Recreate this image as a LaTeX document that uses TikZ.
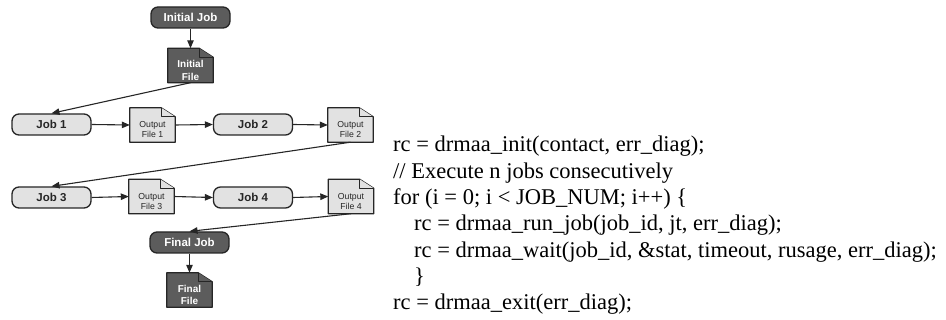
\documentclass[tikz,border=0pt]{standalone}
\usepackage{fontspec}
\setmainfont{Liberation Serif}
\newfontfamily\diagfont{Liberation Sans}
\usetikzlibrary{arrows.meta,backgrounds}

\definecolor{darkfill}{RGB}{92,92,92}
\definecolor{lightfill}{RGB}{226,226,226}
\definecolor{edge}{RGB}{38,38,38}

\tikzset{
  job/.style={draw=edge, line width=1.3pt, rounded corners=7pt,
    minimum width=79pt, minimum height=21pt, inner sep=0pt,
    font=\diagfont\bfseries\fontsize{11.5}{12}\selectfont},
  lightjob/.style={job, fill=lightfill, text=edge},
  darkjob/.style={job, fill=darkfill, text=white},
  docfile/.style={minimum width=45pt, minimum height=34pt, inner sep=0pt},
  doctext/.style={inner sep=0pt, align=center, yshift=-5pt},
  lighttext/.style={doctext, font=\diagfont\fontsize{8.7}{10}\selectfont, text=edge},
  darktext/.style={doctext, font=\diagfont\bfseries\fontsize{10}{12.5}\selectfont, text=white},
  flow/.style={draw=edge, line width=1.1pt, -{Triangle[length=8pt,width=6.5pt]}},
  codeline/.style={anchor=base west, inner sep=0pt, font=\fontsize{22.5}{26}\selectfont},
}

% document outline with a folded top-right corner around a named node
\newcommand\docoutline[2]{%
  \draw[draw=edge, line width=1.3pt, fill=#2, line join=round]
    (#1.south west) -- (#1.south east) -- ([yshift=-9pt]#1.north east)
    -- ([xshift=-14pt]#1.north east) -- (#1.north west) -- cycle;
  \draw[draw=edge, line width=0.9pt, fill=#2, line join=round]
    ([xshift=-14pt]#1.north east) -- ([xshift=-14pt,yshift=-9pt]#1.north east)
    -- ([yshift=-9pt]#1.north east);
}

\begin{document}
\begin{tikzpicture}[x=1pt, y=-1pt]
  \useasboundingbox (0,0) rectangle (946,320);

  % workflow: jobs and the files passed between them
  \node[darkjob]  (ij)  at (190.5,17.5) {Initial Job};
  \node[docfile]  (if)  at (190.5,65.5) {};
  \node[lightjob] (j1)  at (51.5,124.5) {Job 1};
  \node[docfile]  (of1) at (152.5,125)  {};
  \node[lightjob] (j2)  at (253,124.5)  {Job 2};
  \node[docfile]  (of2) at (350.5,125)  {};
  \node[lightjob] (j3)  at (51.5,197.5) {Job 3};
  \node[docfile]  (of3) at (151.5,196.5) {};
  \node[lightjob] (j4)  at (253,197.5)  {Job 4};
  \node[docfile]  (of4) at (351,196.5)  {};
  \node[darkjob]  (fj)  at (189.5,242.5) {Final Job};
  \node[docfile]  (ff)  at (189.5,290)  {};

  \begin{pgfonlayer}{background}
    \docoutline{if}{darkfill}
    \docoutline{of1}{lightfill}
    \docoutline{of2}{lightfill}
    \docoutline{of3}{lightfill}
    \docoutline{of4}{lightfill}
    \docoutline{ff}{darkfill}
  \end{pgfonlayer}

  % file labels, set a little below the middle of each document
  \node[darktext]  (ift)  at (if)  {Initial\\File};
  \node[lighttext] (of1t) at (of1) {Output\\File 1};
  \node[lighttext] (of2t) at (of2) {Output\\File 2};
  \node[lighttext] (of3t) at (of3) {Output\\File 3};
  \node[lighttext] (of4t) at (of4) {Output\\File 4};
  \node[darktext]  (fft)  at (ff)  {Final\\File};

  \draw[flow] (ij.south) -- (if.north);
  \draw[flow] (if.south) -- (j1.north);
  \draw[flow] (j1.east) -- (of1.west);
  \draw[flow] (of1.east) -- (j2.west);
  \draw[flow] (j2.east) -- (of2.west);
  \draw[flow] (of2.south) -- (j3.north);
  \draw[flow] (j3.east) -- (of3.west);
  \draw[flow] (of3.east) -- (j4.west);
  \draw[flow] (j4.east) -- (of4.west);
  \draw[flow] (of4.south) -- (fj.north);
  \draw[flow] (fj.south) -- (ff.north);

  % DRMAA code
  \node[codeline] (c1) at (393,152)   {rc = drmaa\_init(contact, err\_diag);};
  \node[codeline] (c2) at (393,178.3) {// Execute n jobs consecutively};
  \node[codeline] (c3) at (393,204.6) {for (i = 0; i < JOB\_NUM; i++) \{};
  \node[codeline] (c4) at (414,230.9) {rc = drmaa\_run\_job(job\_id, jt, err\_diag);};
  \node[codeline] (c5) at (414,257.2) {rc = drmaa\_wait(job\_id, \&stat, timeout, rusage, err\_diag);};
  \node[codeline] (c6) at (414,283.5) {\}};
  \node[codeline] (c7) at (393,309.8) {rc = drmaa\_exit(err\_diag);};
\end{tikzpicture}
\end{document}
